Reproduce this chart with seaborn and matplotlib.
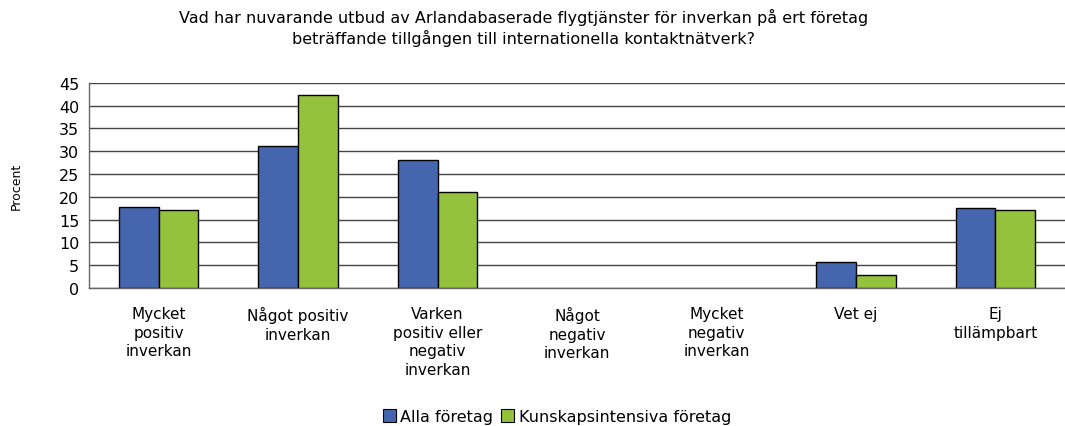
import pandas as pd
import numpy as np
import matplotlib
matplotlib.use('Agg')
import matplotlib.pyplot as plt
from matplotlib.patches import Patch
import seaborn as sns

## Data

categories = ['Mycket\npositiv\ninverkan', 'Något positiv\ninverkan', 'Varken\npositiv eller\nnegativ\ninverkan',
              'Något\nnegativ\ninverkan', 'Mycket\nnegativ\ninverkan', 'Vet ej', 'Ej\ntillämpbart']
alla = [17.8, 31.1, 28.1, 0, 0, 5.7, 17.5]
kunskap = [17.0, 42.2, 21.0, 0, 0, 2.9, 17.0]
series_names = ['Alla företag', 'Kunskapsintensiva företag']
colors = ['#4565AE', '#94C23C']
title = ('Vad har nuvarande utbud av Arlandabaserade flygtjänster för inverkan på ert företag\n'
         'beträffande tillgången till internationella kontaktnätverk?')

df = pd.DataFrame({
    'Kategori': categories * 2,
    'Serie': [series_names[0]] * len(categories) + [series_names[1]] * len(categories),
    'Procent': alla + kunskap,
})

## Figur

sns.set_style('white')
plt.rcParams['font.family'] = ['DejaVu Sans']
plt.rcParams['text.color'] = 'black'
plt.rcParams['axes.labelcolor'] = 'black'
plt.rcParams['xtick.labelcolor'] = 'black'
plt.rcParams['ytick.labelcolor'] = 'black'

fig = plt.figure(figsize=(10.65, 4.27), dpi=100)
ax = fig.add_axes([0.0836, 0.323, 0.9164, 0.481])

sns.barplot(data=df, x='Kategori', y='Procent', hue='Serie', palette=colors, saturation=1,
            width=0.57, edgecolor='black', linewidth=1.0, ax=ax, legend=False, zorder=3)

# staplar med värdet 0 ska inte synas
for p in ax.patches:
    if p.get_height() == 0:
        p.set_linewidth(0)

ax.set_ylim(0, 45)
ax.set_yticks(np.arange(0, 50, 5))
ax.set_xlim(-0.5, len(categories) - 0.5)
ax.yaxis.grid(True, color='#444444', linewidth=1.0, zorder=0)
ax.set_axisbelow(True)

for s in ['top', 'right']:
    ax.spines[s].set_visible(False)
for s in ['left', 'bottom']:
    ax.spines[s].set_color('#666666')
    ax.spines[s].set_linewidth(1.0)

# streck mellan kategorierna
ax.set_xticks(np.arange(-0.5, len(categories), 1), minor=True)
ax.tick_params(axis='x', which='minor', length=5, color='#666666', width=1)
ax.tick_params(axis='x', which='major', length=0, pad=13)
ax.tick_params(axis='y', length=4, color='#666666', width=1, labelsize=11.5, pad=3)
ax.set_xticks(range(len(categories)))
ax.set_xticklabels(categories, fontsize=11, linespacing=1.3)

ax.set_xlabel('')
ax.set_ylabel('Procent', fontsize=9, labelpad=26)

fig.text(0.492, 0.98, title, ha='center', va='top', fontsize=11.5, linespacing=1.3)

handles = [Patch(facecolor=c, edgecolor='black', linewidth=0.8) for c in colors]
fig.legend(handles, series_names, loc='center', bbox_to_anchor=(0.523, 0.022), ncol=2,
           frameon=False, fontsize=11.5, handlelength=0.8, handleheight=0.8,
           handletextpad=0.3, columnspacing=0.5)

plt.savefig('out.png', dpi=100)
